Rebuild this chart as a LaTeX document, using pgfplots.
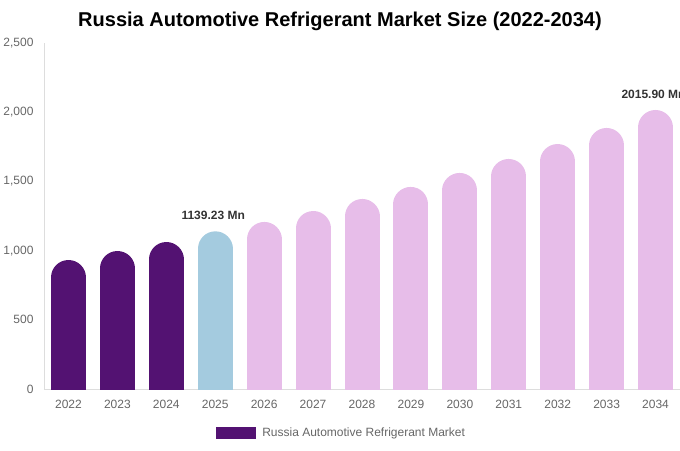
\documentclass[border=0pt]{standalone}
\usepackage{pgfplots}
\pgfplotsset{compat=1.18}
\usepackage{fontspec}
\setmainfont{Liberation Sans}
\usetikzlibrary{calc}

\definecolor{darkp}{HTML}{531272}
\definecolor{lblue}{HTML}{A4CBDF}
\definecolor{lpink}{HTML}{E7BDE9}
\definecolor{ticktext}{HTML}{666666}
\definecolor{axisgray}{HTML}{DDDDDD}

% bars as thick combs with a round cap: the cap (17.5pt = 126.4 units) is
% taken off the comb so that the round top ends at the value, the bottom cap is clipped
\pgfplotsset{
    pillbar/.style={ycomb, mark=none, line width=35pt, line cap=round, color=#1,
        y filter/.expression={y-126.4}},
}

\begin{document}
\begin{tikzpicture}
\begin{axis}[
    name=ax,
    scale only axis,
    width=636pt, height=346pt,
    xmin=-0.5, xmax=12.5,
    ymin=0, ymax=2500,
    axis lines*=left,
    axis line style={draw=axisgray, line width=0.8pt},
    major tick length=0pt,
    xtick={0,1,2,3,4,5,6,7,8,9,10,11,12},
    xticklabels={2022,2023,2024,2025,2026,2027,2028,2029,2030,2031,2032,2033,2034},
    ytick={0,500,1000,1500,2000,2500},
    /pgf/number format/assume math mode=true,
    /pgf/number format/1000 sep={,},
    scaled y ticks=false,
    tick label style={font=\fontsize{12}{14}\selectfont, text=ticktext},
    yticklabel style={xshift=-7pt},
    xticklabel style={yshift=-8pt},
    legend style={at={(axis description cs:0.468,-0.127)}, anchor=center,
        draw=none, fill=none, font=\fontsize{12}{14}\selectfont, text=ticktext},
    legend cell align=left,
]
\addplot[pillbar=darkp,
    legend image code/.code={
        \fill[darkp, draw=none, line width=0.4pt, line cap=butt] (0pt,-6pt) rectangle (40pt,6pt);
        \path[draw=none, fill=none, line width=0.4pt, line cap=butt] (0pt,0pt) -- (44pt,0pt);}]
    coordinates {(0,932) (1,997) (2,1062)};
\addlegendentry{Russia Automotive Refrigerant Market}
\addplot[pillbar=lblue, forget plot]
    coordinates {(3,1139.23)};
\addplot[pillbar=lpink, forget plot]
    coordinates {(4,1207) (5,1286) (6,1373) (7,1460) (8,1561) (9,1662) (10,1770) (11,1886) (12,2015.90)};
% value labels
\addplot[draw=none, mark=none, forget plot,
    nodes near coords, point meta=explicit symbolic,
    every node near coord/.style={font=\bfseries\fontsize{12}{14}\selectfont,
        text=black!80, anchor=south, yshift=8pt, xshift=-2pt}]
    coordinates {(3,1139.23) [1139.23 Mn] (12,2015.90) [2015.90 Mn]};
\end{axis}
\node[font=\bfseries\fontsize{20}{24}\selectfont] at ($(ax.south west)+(296pt,368pt)$)
    {Russia Automotive Refrigerant Market Size (2022-2034)};
\pgfresetboundingbox
\path[use as bounding box] ($(ax.south west)+(-44pt,-61pt)$) rectangle ($(ax.south west)+(636pt,389pt)$);
\end{tikzpicture}
\end{document}
